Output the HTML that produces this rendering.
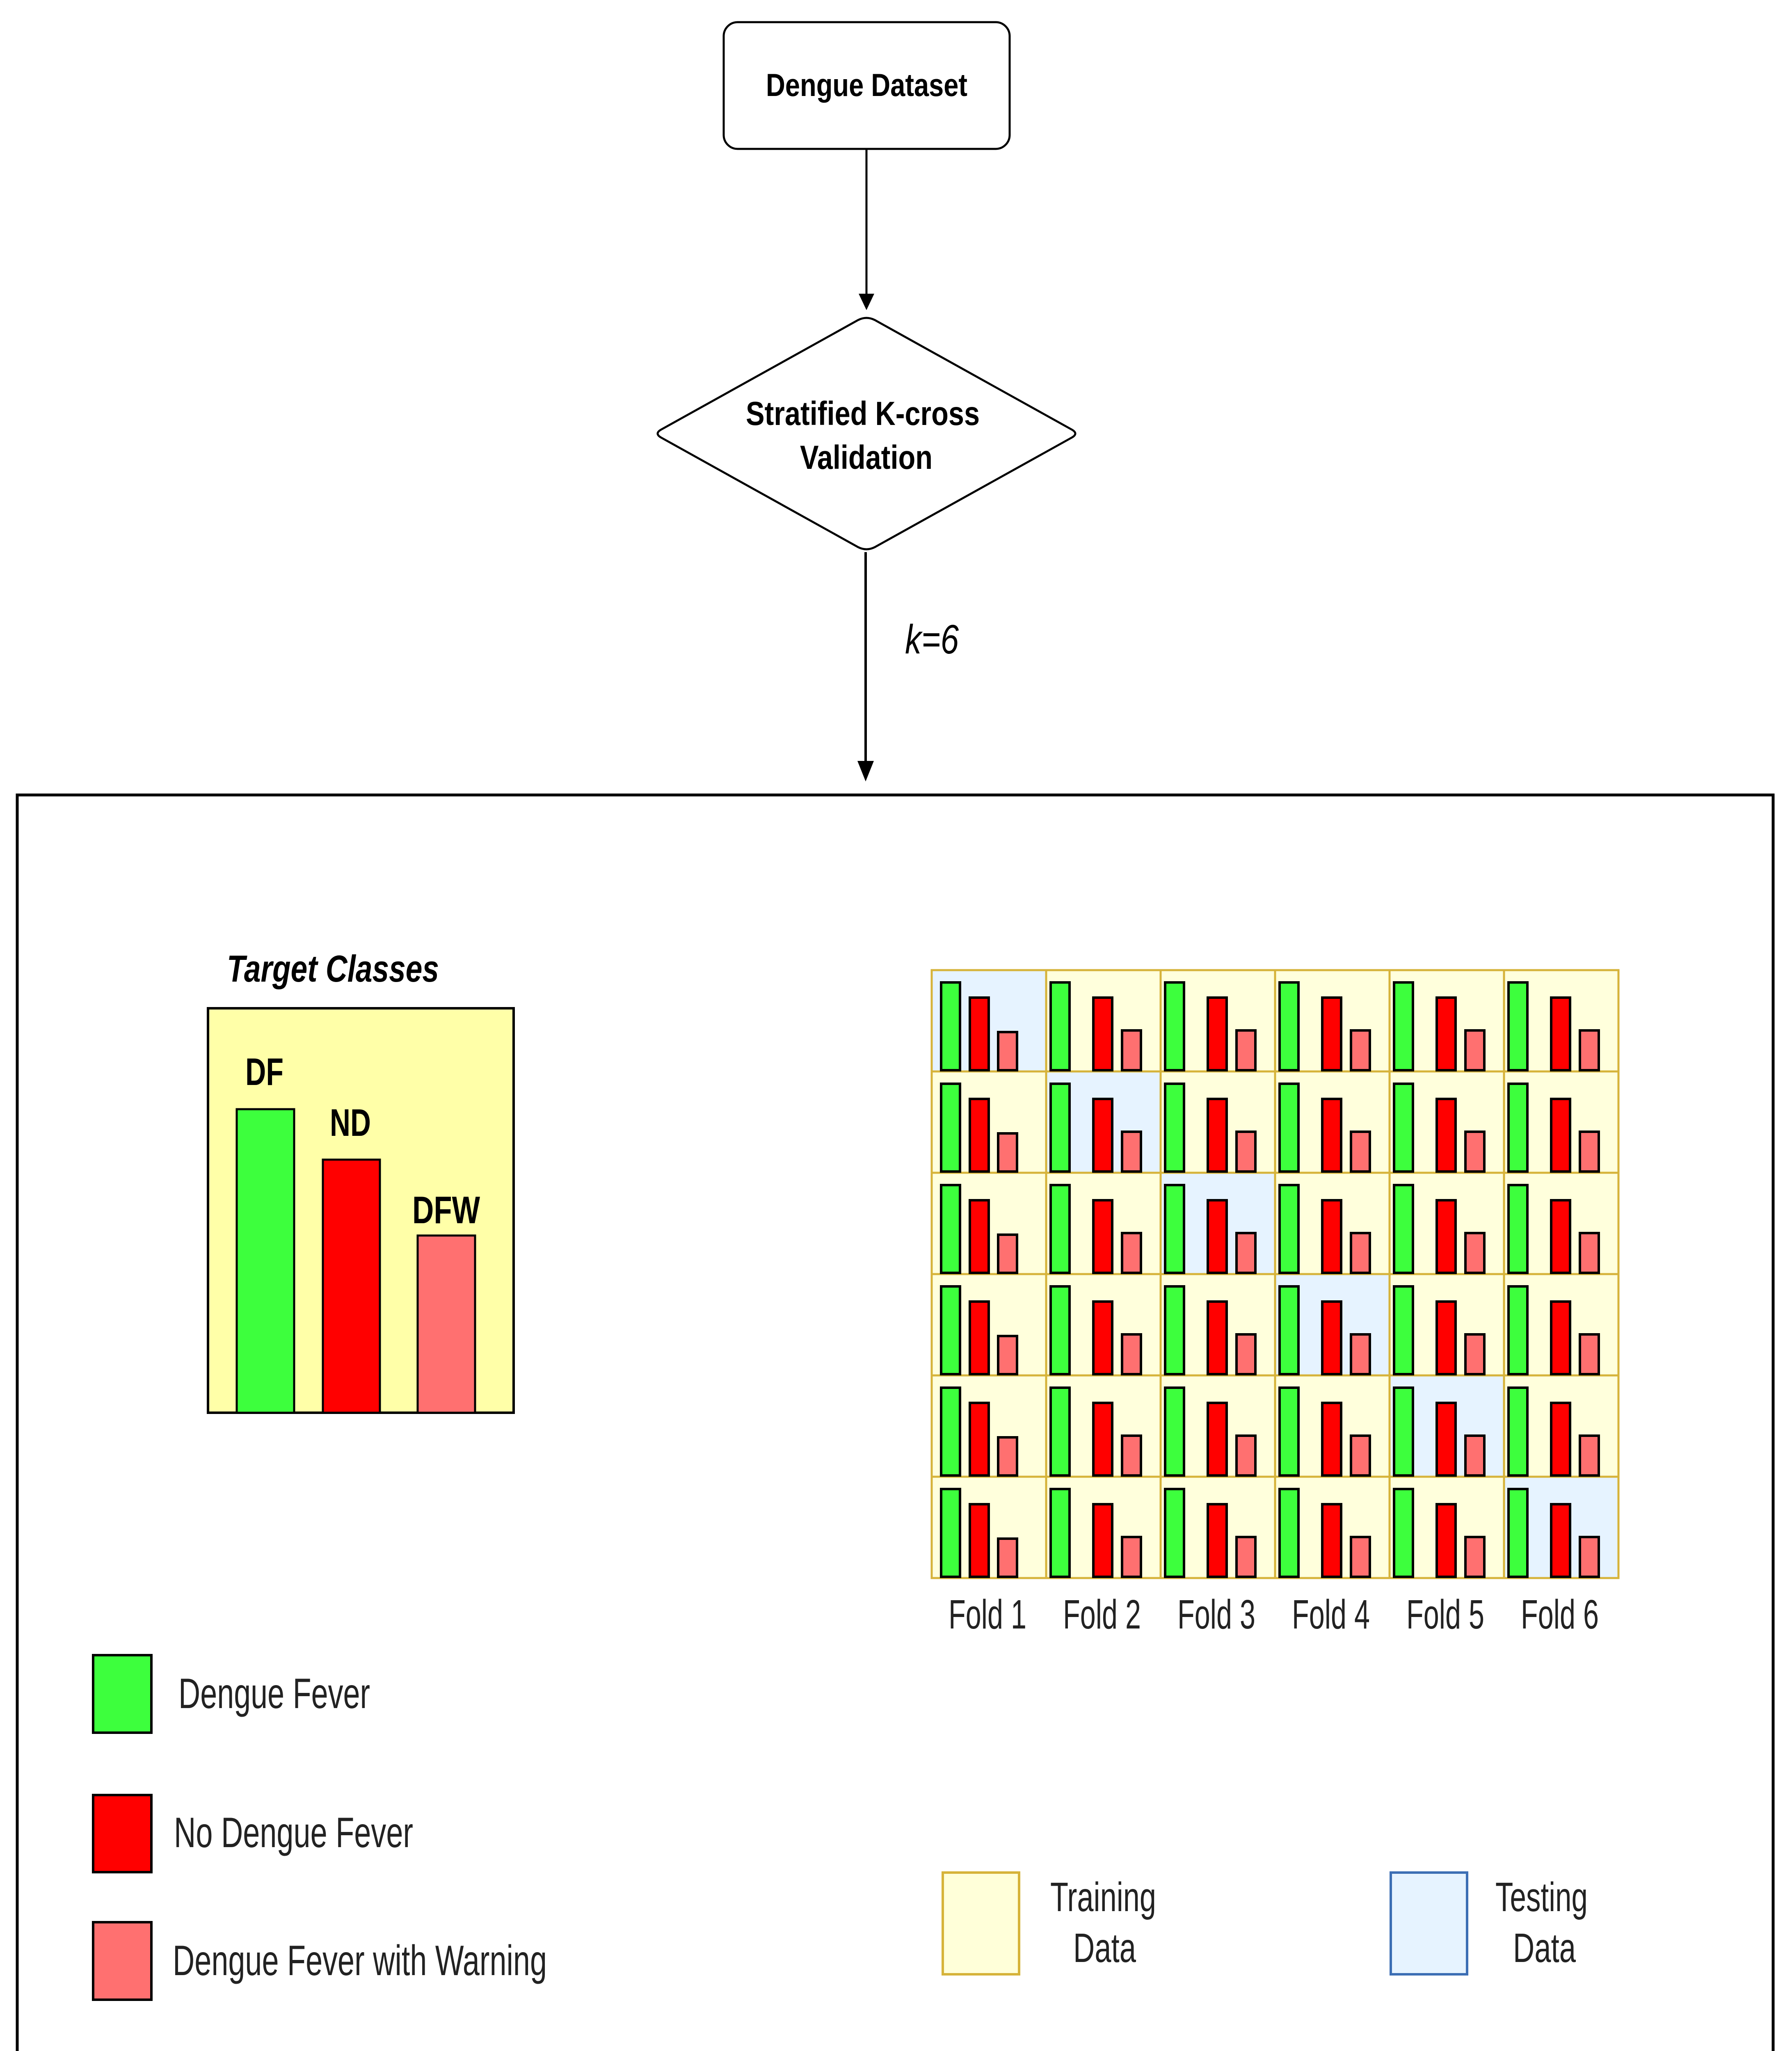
<!DOCTYPE html>
<html><head><meta charset="utf-8"><style>html,body{margin:0;padding:0;background:#fff;width:4368px;height:5058px;overflow:hidden}svg{display:block;position:absolute;left:0;top:0}</style></head>
<body>
<svg xmlns="http://www.w3.org/2000/svg" width="4368" height="5058" viewBox="0 0 4368 5058" font-family="Liberation Sans, Arial, sans-serif">
<rect width="4368" height="5058" fill="#fff"/>
<rect x="1764" y="54" width="697" height="309" rx="34" fill="#fff" stroke="#000" stroke-width="5"/>
<text x="1867" y="234" font-size="78" font-weight="bold" textLength="491" lengthAdjust="spacingAndGlyphs">Dengue Dataset</text>
<line x1="2112" y1="363" x2="2112" y2="720" stroke="#000" stroke-width="5"/>
<polygon points="2093,716 2131,716 2112,756" fill="#000"/>
<path d="M2092,780 Q2112,770 2132,780 L2612,1047 Q2630,1057 2612,1067 L2132,1334 Q2112,1344 2092,1334 L1612,1067 Q1594,1057 1612,1047 Z" fill="#fff" stroke="#000" stroke-width="5"/>
<text x="1818" y="1036" font-size="82" font-weight="bold" textLength="570" lengthAdjust="spacingAndGlyphs">Stratified K-cross</text>
<text x="1950" y="1143" font-size="82" font-weight="bold" textLength="323" lengthAdjust="spacingAndGlyphs">Validation</text>
<line x1="2110" y1="1346" x2="2110" y2="1870" stroke="#000" stroke-width="6"/>
<polygon points="2090,1855 2130,1855 2110,1905" fill="#000"/>
<text x="2206" y="1593" font-size="100" font-style="italic" textLength="131" lengthAdjust="spacingAndGlyphs">k=6</text>
<rect x="42" y="1938" width="4280" height="3086" fill="none" stroke="#000" stroke-width="7"/>
<text x="553" y="2393" font-size="92" font-style="italic" font-weight="bold" textLength="517" lengthAdjust="spacingAndGlyphs">Target Classes</text>
<rect x="507" y="2458" width="745" height="986" fill="#FFFFA8" stroke="#000" stroke-width="6"/>
<rect x="577" y="2704" width="140" height="740" fill="#3DFF3D" stroke="#000" stroke-width="5"/>
<rect x="787" y="2827" width="139" height="617" fill="#FF0000" stroke="#000" stroke-width="5"/>
<rect x="1018" y="3012" width="140" height="432" fill="#FF7070" stroke="#000" stroke-width="5"/>
<g font-weight="bold" font-size="94">
<text x="598" y="2645" textLength="93" lengthAdjust="spacingAndGlyphs">DF</text>
<text x="804" y="2769" textLength="100" lengthAdjust="spacingAndGlyphs">ND</text>
<text x="1005" y="2982" textLength="165" lengthAdjust="spacingAndGlyphs">DFW</text>
</g>
<rect x="227" y="4035" width="142" height="189" fill="#3DFF3D" stroke="#000" stroke-width="6"/>
<rect x="227" y="4376" width="142" height="188" fill="#FF0000" stroke="#000" stroke-width="6"/>
<rect x="227" y="4686" width="142" height="189" fill="#FF7070" stroke="#000" stroke-width="6"/>
<g fill="#222" font-size="104">
<text x="435" y="4164" textLength="467" lengthAdjust="spacingAndGlyphs">Dengue Fever</text>
<text x="424" y="4503" textLength="583" lengthAdjust="spacingAndGlyphs">No Dengue Fever</text>
<text x="421" y="4815" textLength="912" lengthAdjust="spacingAndGlyphs">Dengue Fever with Warning</text>
</g>
<rect x="2298" y="4565" width="186" height="248" fill="#FFFFD9" stroke="#D6B33A" stroke-width="6"/>
<rect x="3390" y="4565" width="186" height="248" fill="#E6F3FF" stroke="#3C6EB4" stroke-width="6"/>
<g fill="#222" font-size="100">
<text x="2560" y="4659" textLength="258" lengthAdjust="spacingAndGlyphs">Training</text>
<text x="2616" y="4783" textLength="153" lengthAdjust="spacingAndGlyphs">Data</text>
<text x="3645" y="4659" textLength="225" lengthAdjust="spacingAndGlyphs">Testing</text>
<text x="3688" y="4783" textLength="153" lengthAdjust="spacingAndGlyphs">Data</text>
</g>
<g>
<rect x="2271" y="2365" width="279" height="247" fill="#E6F3FF"/><rect x="2550" y="2365" width="279" height="247" fill="#FFFFDC"/><rect x="2829" y="2365" width="279" height="247" fill="#FFFFDC"/><rect x="3108" y="2365" width="279" height="247" fill="#FFFFDC"/><rect x="3387" y="2365" width="279" height="247" fill="#FFFFDC"/><rect x="3666" y="2365" width="279" height="247" fill="#FFFFDC"/>
<rect x="2271" y="2612" width="279" height="247" fill="#FFFFDC"/><rect x="2550" y="2612" width="279" height="247" fill="#E6F3FF"/><rect x="2829" y="2612" width="279" height="247" fill="#FFFFDC"/><rect x="3108" y="2612" width="279" height="247" fill="#FFFFDC"/><rect x="3387" y="2612" width="279" height="247" fill="#FFFFDC"/><rect x="3666" y="2612" width="279" height="247" fill="#FFFFDC"/>
<rect x="2271" y="2859" width="279" height="247" fill="#FFFFDC"/><rect x="2550" y="2859" width="279" height="247" fill="#FFFFDC"/><rect x="2829" y="2859" width="279" height="247" fill="#E6F3FF"/><rect x="3108" y="2859" width="279" height="247" fill="#FFFFDC"/><rect x="3387" y="2859" width="279" height="247" fill="#FFFFDC"/><rect x="3666" y="2859" width="279" height="247" fill="#FFFFDC"/>
<rect x="2271" y="3106" width="279" height="247" fill="#FFFFDC"/><rect x="2550" y="3106" width="279" height="247" fill="#FFFFDC"/><rect x="2829" y="3106" width="279" height="247" fill="#FFFFDC"/><rect x="3108" y="3106" width="279" height="247" fill="#E6F3FF"/><rect x="3387" y="3106" width="279" height="247" fill="#FFFFDC"/><rect x="3666" y="3106" width="279" height="247" fill="#FFFFDC"/>
<rect x="2271" y="3353" width="279" height="247" fill="#FFFFDC"/><rect x="2550" y="3353" width="279" height="247" fill="#FFFFDC"/><rect x="2829" y="3353" width="279" height="247" fill="#FFFFDC"/><rect x="3108" y="3353" width="279" height="247" fill="#FFFFDC"/><rect x="3387" y="3353" width="279" height="247" fill="#E6F3FF"/><rect x="3666" y="3353" width="279" height="247" fill="#FFFFDC"/>
<rect x="2271" y="3600" width="279" height="247" fill="#FFFFDC"/><rect x="2550" y="3600" width="279" height="247" fill="#FFFFDC"/><rect x="2829" y="3600" width="279" height="247" fill="#FFFFDC"/><rect x="3108" y="3600" width="279" height="247" fill="#FFFFDC"/><rect x="3387" y="3600" width="279" height="247" fill="#FFFFDC"/><rect x="3666" y="3600" width="279" height="247" fill="#E6F3FF"/>
</g>
<g stroke="#D6B33A" stroke-width="5" fill="none">
<rect x="2271" y="2365" width="1674" height="1482"/>
<line x1="2550" y1="2365" x2="2550" y2="3847"/><line x1="2829" y1="2365" x2="2829" y2="3847"/><line x1="3108" y1="2365" x2="3108" y2="3847"/><line x1="3387" y1="2365" x2="3387" y2="3847"/><line x1="3666" y1="2365" x2="3666" y2="3847"/>
<line x1="2271" y1="2612" x2="3945" y2="2612"/><line x1="2271" y1="2859" x2="3945" y2="2859"/><line x1="2271" y1="3106" x2="3945" y2="3106"/><line x1="2271" y1="3353" x2="3945" y2="3353"/><line x1="2271" y1="3600" x2="3945" y2="3600"/>
</g>
<defs>
<g id="b1"><rect x="23" y="30" width="46" height="214" fill="#3DFF3D" stroke="#000" stroke-width="6"/><rect x="93" y="67" width="46" height="177" fill="#FF0000" stroke="#000" stroke-width="6"/><rect x="162" y="151" width="46" height="93" fill="#FF7070" stroke="#000" stroke-width="6"/></g>
<g id="b2"><rect x="11" y="30" width="46" height="214" fill="#3DFF3D" stroke="#000" stroke-width="6"/><rect x="115" y="67" width="46" height="177" fill="#FF0000" stroke="#000" stroke-width="6"/><rect x="185" y="147" width="46" height="97" fill="#FF7070" stroke="#000" stroke-width="6"/></g>
</defs>
<use href="#b1" x="2271" y="2365"/><use href="#b2" x="2550" y="2365"/><use href="#b2" x="2829" y="2365"/><use href="#b2" x="3108" y="2365"/><use href="#b2" x="3387" y="2365"/><use href="#b2" x="3666" y="2365"/>
<use href="#b1" x="2271" y="2612"/><use href="#b2" x="2550" y="2612"/><use href="#b2" x="2829" y="2612"/><use href="#b2" x="3108" y="2612"/><use href="#b2" x="3387" y="2612"/><use href="#b2" x="3666" y="2612"/>
<use href="#b1" x="2271" y="2859"/><use href="#b2" x="2550" y="2859"/><use href="#b2" x="2829" y="2859"/><use href="#b2" x="3108" y="2859"/><use href="#b2" x="3387" y="2859"/><use href="#b2" x="3666" y="2859"/>
<use href="#b1" x="2271" y="3106"/><use href="#b2" x="2550" y="3106"/><use href="#b2" x="2829" y="3106"/><use href="#b2" x="3108" y="3106"/><use href="#b2" x="3387" y="3106"/><use href="#b2" x="3666" y="3106"/>
<use href="#b1" x="2271" y="3353"/><use href="#b2" x="2550" y="3353"/><use href="#b2" x="2829" y="3353"/><use href="#b2" x="3108" y="3353"/><use href="#b2" x="3387" y="3353"/><use href="#b2" x="3666" y="3353"/>
<use href="#b1" x="2271" y="3600"/><use href="#b2" x="2550" y="3600"/><use href="#b2" x="2829" y="3600"/><use href="#b2" x="3108" y="3600"/><use href="#b2" x="3387" y="3600"/><use href="#b2" x="3666" y="3600"/>
<g fill="#222" font-size="100">
<text x="2312" y="3970" textLength="190" lengthAdjust="spacingAndGlyphs">Fold 1</text>
<text x="2591" y="3970" textLength="190" lengthAdjust="spacingAndGlyphs">Fold 2</text>
<text x="2870" y="3970" textLength="190" lengthAdjust="spacingAndGlyphs">Fold 3</text>
<text x="3149" y="3970" textLength="190" lengthAdjust="spacingAndGlyphs">Fold 4</text>
<text x="3428" y="3970" textLength="190" lengthAdjust="spacingAndGlyphs">Fold 5</text>
<text x="3707" y="3970" textLength="190" lengthAdjust="spacingAndGlyphs">Fold 6</text>
</g>
</svg>
</body></html>
